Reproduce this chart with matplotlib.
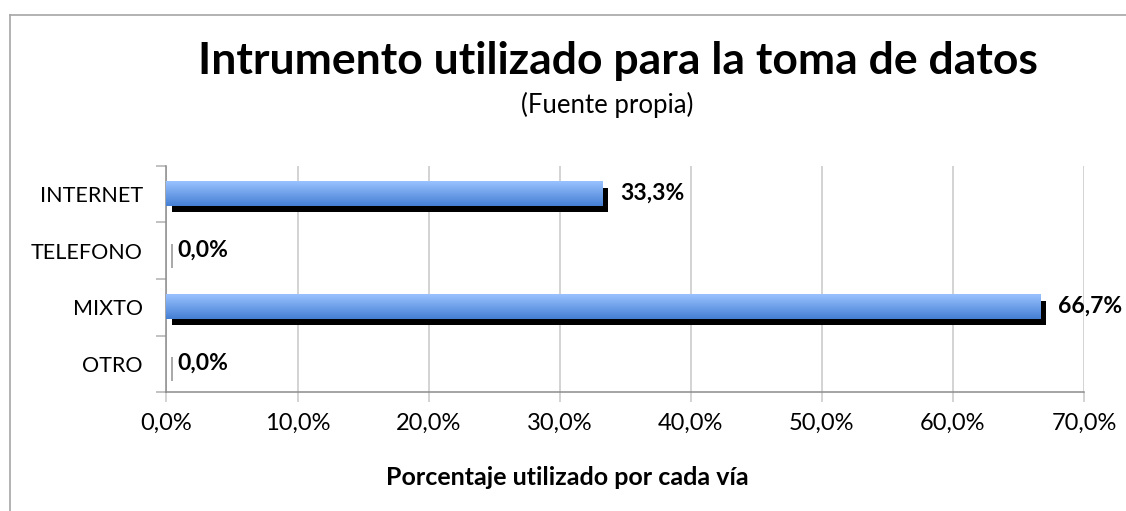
import numpy as np
import matplotlib
matplotlib.use("Agg")
import matplotlib.pyplot as plt
import matplotlib.transforms as mtransforms
from matplotlib.colors import LinearSegmentedColormap
from matplotlib.ticker import FuncFormatter

categories = ["INTERNET", "TELEFONO", "MIXTO", "OTRO"]
values = [33.3, 0.0, 66.7, 0.0]
xticks = [0, 10, 20, 30, 40, 50, 60, 70]
title = "Intrumento utilizado para la toma de datos"
subtitle = "(Fuente propia)"
xlabel = "Porcentaje utilizado por cada vía"

plt.rcParams['font.family'] = ['Lato', 'DejaVu Sans']

W, H = 1126, 511
fig = plt.figure(figsize=(W / 100, H / 100), dpi=100)
fig.patch.set_facecolor('white')

# outer chart border (clipped at right/bottom)
fig.add_artist(plt.Line2D([9.5 / W, 1.0], [1 - 15.5 / H, 1 - 15.5 / H], color='#A6A6A6', lw=1.2))
fig.add_artist(plt.Line2D([9.5 / W, 9.5 / W], [0, 1 - 15.5 / H], color='#A6A6A6', lw=1.2))

left, right, bottom, top = 166.5 / W, 1084 / W, 1 - 392 / H, 1 - 166 / H
ax = fig.add_axes([left, bottom, right - left, top - bottom])

ypos = np.arange(len(categories))
bh = 0.425

ax.set_xlim(0, 70)
ax.set_ylim(len(categories) - 0.5, -0.5)

# shadow
shadow_tr = mtransforms.offset_copy(ax.transData, fig=fig, x=5.5, y=-5.5, units='dots')
for y, v in zip(ypos, values):
    if v > 0:
        ax.barh(y, v, height=bh, color='black', transform=shadow_tr, zorder=2, lw=0)
    else:
        ax.plot([0, 0], [y - bh / 2, y + bh / 2], color='#9A9A9A', lw=1.2,
                transform=shadow_tr, zorder=2, solid_capstyle='butt')

# gradient bars (light on top, darker at bottom)
cmap = LinearSegmentedColormap.from_list('g', [(0.60, 0.76, 1.0), (0.27, 0.50, 0.83)])
grad = np.linspace(0, 1, 64).reshape(-1, 1)
for y, v in zip(ypos, values):
    if v > 0:
        ax.imshow(grad, extent=(0, v, y + bh / 2, y - bh / 2), origin='upper',
                  cmap=cmap, aspect='auto', zorder=3, interpolation='bilinear')

for y, v in zip(ypos, values):
    ax.annotate(f"{v:.1f}%".replace('.', ','), xy=(v, y), xytext=(17 if v > 0 else 11, 1),
                textcoords='offset pixels', va='center', ha='left',
                fontsize=16.5, fontweight='bold', color='black', zorder=5)

ax.set_xlim(0, 70)
ax.set_ylim(len(categories) - 0.5, -0.5)
ax.set_aspect('auto')

ax.set_xticks(xticks)
ax.xaxis.set_major_formatter(FuncFormatter(lambda x, p: f"{x:.1f}%".replace('.', ',')))
ax.grid(axis='x', color='#C8C8C8', lw=1.1, zorder=0)
ax.set_axisbelow(True)
ax.tick_params(axis='x', length=7, width=1.1, color='#C8C8C8', labelsize=17, pad=8)

ax.set_yticks(ypos)
ax.set_yticklabels(categories)
ax.set_yticks(np.arange(-0.5, len(categories), 1.0), minor=True)
ax.tick_params(axis='y', which='major', length=0, labelsize=15.5, pad=17)
ax.tick_params(axis='y', which='minor', length=7, width=1.1, color='#B0B0B0')

for s in ['top', 'right']:
    ax.spines[s].set_visible(False)
for s in ['left', 'bottom']:
    ax.spines[s].set_color('#8C8C8C')
    ax.spines[s].set_linewidth(1.1)

fig.text(618 / W, 1 - 61 / H, title, ha='center', va='center', fontsize=32, fontweight='bold')
fig.text(607 / W, 1 - 105 / H, subtitle, ha='center', va='center', fontsize=18.5)
fig.text(567 / W, 1 - 477 / H, xlabel, ha='center', va='center', fontsize=18, fontweight='bold')

fig.savefig('out.png', dpi=100)
